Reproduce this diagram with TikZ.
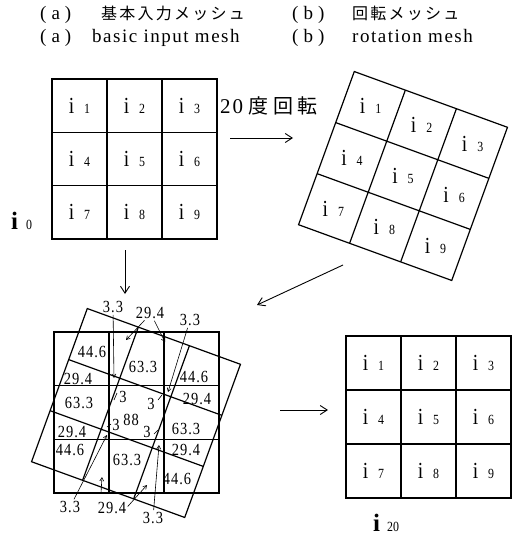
\documentclass[tikz,border=0pt]{standalone}
\usepackage{fontspec}
\setmainfont{Liberation Serif}
\newfontfamily\jhead[LetterSpace=14]{Noto Sans CJK JP}
\newfontfamily\jbig[LetterSpace=24]{Noto Sans CJK JP}
\newfontfamily\lhead[LetterSpace=8]{Liberation Serif}
\newfontfamily\nfont[LetterSpace=6,FakeStretch=0.85]{Liberation Serif}
\newfontfamily\cfont[FakeStretch=0.85]{Liberation Serif}
\usetikzlibrary{arrows.meta}
\tikzset{
  gl/.style={line width=1.2pt},
  cell/.style={inner sep=0pt, font=\cfont\fontsize{23}{23}\selectfont},
  val/.style={inner sep=0pt, font=\nfont\fontsize{17}{17}\selectfont},
  head/.style={inner sep=0pt, anchor=base west},
  bigarrow/.style={line width=0.9pt, -{Straight Barb[length=7pt,width=9pt,line width=0.9pt]}},
  leader/.style={line width=0.6pt, shorten <=2pt, -{Straight Barb[length=3.5pt,width=4pt]}},
  tick/.style={line width=0.6pt},
}
\newcommand{\ci}[1]{i\hspace{10pt}{\fontsize{14}{14}\selectfont #1}}
\newcommand{\drawmesh}[2]{%
  \draw[gl] (-#1,-#2) rectangle (#1,#2);
  \draw[gl] (-#1/3,-#2) -- (-#1/3,#2) (#1/3,-#2) -- (#1/3,#2)
            (-#1,-#2/3) -- (#1,-#2/3) (-#1,#2/3) -- (#1,#2/3);
}
\newcommand{\meshlabels}[3]{% prefix, half width, half height
  \foreach \n/\c/\r in {1/-1/-1,2/0/-1,3/1/-1,4/-1/0,5/0/0,6/1/0,7/-1/1,8/0/1,9/1/1}
    \node[cell] (#1\n) at ({\c*2*#2/3},{\r*2*#3/3}) {\ci{\n}};
}
\begin{document}
\begin{tikzpicture}[x=1pt,y=-1pt]
\useasboundingbox (0,0) rectangle (522,535);

% headers
\node[head, font=\lhead\fontsize{19}{19}\selectfont] (ha1) at (40,20) {(\hspace{5pt}a\hspace{5pt})};
\node[head, font=\jhead\fontsize{16}{16}\selectfont] (hj1) at (101,20) {基本入力メッシュ};
\node[head, font=\lhead\fontsize{19}{19}\selectfont] (ha2) at (40,42) {(\hspace{5pt}a\hspace{5pt})};
\node[head, font=\lhead\fontsize{19}{19}\selectfont] (he1) at (92,42) {basic input mesh};
\node[head, font=\lhead\fontsize{19}{19}\selectfont] (hb1) at (292,20) {(\hspace{5pt}b\hspace{5pt})};
\node[head, font=\jhead\fontsize{16}{16}\selectfont] (hj2) at (352,20) {回転メッシュ};
\node[head, font=\lhead\fontsize{19}{19}\selectfont] (hb2) at (292,42) {(\hspace{5pt}b\hspace{5pt})};
\node[head, font=\lhead\fontsize{19}{19}\selectfont] (he2) at (352,42) {rotation mesh};

% (a) basic input mesh
\begin{scope}[shift={(134.5,159)}]
  \drawmesh{82.5}{80}
  \meshlabels{a}{82.5}{80}
\end{scope}
\node[head] (i0) at (11,229) {{\fontsize{25}{25}\selectfont\bfseries i}\hspace{8pt}{\cfont\fontsize{14}{14}\selectfont 0}};

% rotation label
\node[inner sep=0pt, anchor=west] (rot) at (220,106)
  {{\lhead\fontsize{21}{21}\selectfont 2\hspace{2pt}0}\hspace{5pt}{\jbig\fontsize{20}{20}\selectfont 度回転}};

% (b) rotated mesh
\begin{scope}[shift={(403,176)},rotate=-20]
  \drawmesh{81.5}{81.5}
  \meshlabels{b}{81.5}{81.5}
\end{scope}

% (c) overlap
\begin{scope}[shift={(136.5,412.5)}]
  \drawmesh{82.5}{80.5}
\end{scope}
\begin{scope}[shift={(136,413)},rotate=-20]
  \drawmesh{81.5}{81.5}
\end{scope}

\node[val] (v1) at (92,352) {44.6};
\node[val] (v2) at (143,367) {63.3};
\node[val] (v3) at (194,377) {44.6};
\node[val] (v4) at (78,379) {29.4};
\node[val] (v5) at (79,403) {63.3};
\node[val] (v6) at (123,397) {3};
\node[val] (v7) at (151,404) {3};
\node[val] (v8) at (197,399) {29.4};
\node[val] (v9) at (116,425) {3};
\node[val] (v10) at (131,420) {88};
\node[val] (v11) at (72,432) {29.4};
\node[val] (v12) at (147,432) {3};
\node[val] (v13) at (186,429) {63.3};
\node[val] (v14) at (70,450) {44.6};
\node[val] (v15) at (186,450) {29.4};
\node[val] (v16) at (127,460) {63.3};
\node[val] (v17) at (177,479) {44.6};

\node[val] (L1) at (113,307) {3.3};
\node[val] (L2) at (150,313) {29.4};
\node[val] (L3) at (190,320) {3.3};
\node[val] (L4) at (70,507) {3.3};
\node[val] (L5) at (112,508) {29.4};
\node[val] (L6) at (153,518) {3.3};

\coordinate (P1) at (114,378);
\coordinate (P2) at (126,340);
\coordinate (P3) at (165,342);
\coordinate (P4) at (168,392);
\coordinate (P5) at (107,435);
\coordinate (P6) at (102,477);
\coordinate (Q6) at (101,493);
\coordinate (P7) at (147,485);
\coordinate (P8) at (159,445);

\draw[leader] (L1) -- (P1);
\draw[leader] (L2.-125) -- (P2);
\draw[leader] (L2.-60) -- (P3);
\draw[leader] (L3) -- (P4);
\draw[leader] (L4) -- (P5);
\draw[leader, shorten <=0pt] (Q6) -- (P6);
\draw[leader] (L5.east) -- (P7);
\draw[leader] (L6) -- (P8);

% small ticks by the centre values
\draw[tick] (114,400) -- (117,393);
\draw[tick] (158,400) -- (162,395);
\draw[tick] (107,427) -- (111,424);
\draw[tick] (154,434) -- (158,430);

% (d) result mesh
\begin{scope}[shift={(428.5,417)}]
  \drawmesh{82.5}{81}
  \meshlabels{d}{82.5}{81}
\end{scope}
\node[head] (i20) at (373,531) {{\fontsize{25}{25}\selectfont\bfseries i}\hspace{7pt}{\cfont\fontsize{14}{14}\selectfont 20}};

% arrows between panels
\coordinate (ab1) at (230,138);
\coordinate (ab2) at (293,138);
\coordinate (ac1) at (125,250);
\coordinate (ac2) at (125,294);
\coordinate (bc1) at (343,265);
\coordinate (bc2) at (257,305);
\coordinate (cd1) at (280,410);
\coordinate (cd2) at (328,410);
\draw[bigarrow] (ab1) -- (ab2);
\draw[bigarrow] (ac1) -- (ac2);
\draw[bigarrow] (bc1) -- (bc2);
\draw[bigarrow] (cd1) -- (cd2);
\end{tikzpicture}
\end{document}
